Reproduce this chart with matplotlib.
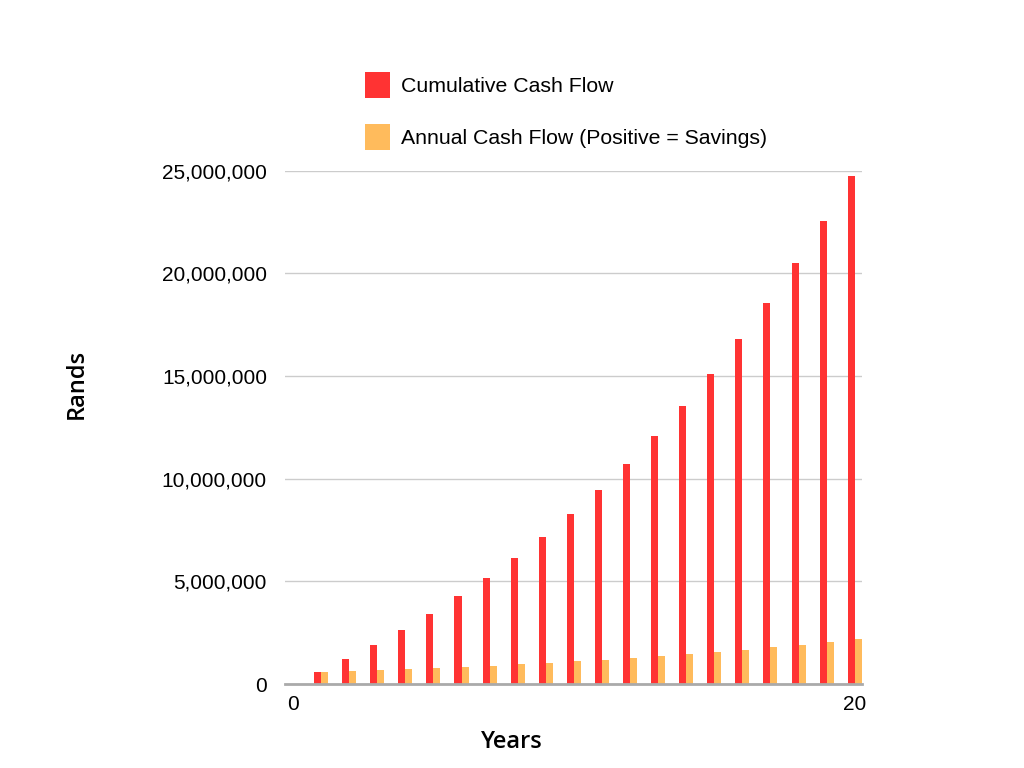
import matplotlib
matplotlib.use("Agg")
import matplotlib.pyplot as plt
from matplotlib.ticker import FuncFormatter
from matplotlib.patches import Patch
import numpy as np

years = list(range(1, 21))
cumulative = [0.60, 1.22, 1.90, 2.63, 3.43, 4.27, 5.16, 6.14, 7.16, 8.26,
              9.45, 10.73, 12.08, 13.54, 15.10, 16.79, 18.57, 20.49, 22.55, 24.76]
annual = [0.60, 0.63, 0.68, 0.73, 0.78, 0.83, 0.89, 0.96, 1.02, 1.10,
          1.17, 1.27, 1.36, 1.46, 1.56, 1.66, 1.79, 1.92, 2.05, 2.19]
cumulative = [v * 1e6 for v in cumulative]
annual = [v * 1e6 for v in annual]
series_labels = ["Cumulative Cash Flow", "Annual Cash Flow (Positive = Savings)"]
x_label = "Years"
y_label = "Rands"

red = "#ff3333"
orange = "#ffbb5c"

plt.rcParams['font.family'] = ['Liberation Sans', 'DejaVu Sans']

fig = plt.figure(figsize=(10.24, 7.68), dpi=100)
ax = fig.add_axes([285/1024, 1 - 684/768, (862-285)/1024, (684-170.7)/768])

x = np.array(years, dtype=float)
w = 0.25
ax.bar(x - w/2, cumulative, width=w, color=red, zorder=3)
ax.bar(x + w/2, annual, width=w, color=orange, zorder=3)

ax.set_xlim(-0.285, 20.26)
ax.set_ylim(0, 25e6)
ax.set_yticks(np.arange(0, 25e6 + 1, 5e6))
ax.set_xticks([0, 20])
ax.yaxis.set_major_formatter(FuncFormatter(lambda v, p: f"{int(v):,}"))
ax.grid(axis='y', color='#cccccc', linewidth=1, zorder=0)
ax.tick_params(axis='y', length=0, pad=13, labelsize=15, colors='black')
ax.tick_params(axis='x', length=0, pad=8, labelsize=15, colors='black')
for s in ['top', 'right', 'left']:
    ax.spines[s].set_visible(False)
ax.spines['bottom'].set_color('#aaaaaa')
ax.spines['bottom'].set_linewidth(2)
ax.spines['bottom'].set_zorder(4)

fig.text(512/1024, 1 - 742/768, x_label, ha='center', va='center',
         fontsize=17, fontweight='semibold', family=['Open Sans', 'DejaVu Sans'])
fig.text(77/1024, 1 - 384/768, y_label, ha='center', va='center', rotation=90,
         fontsize=17, fontweight='semibold', family=['Open Sans', 'DejaVu Sans'])

handles = [Patch(facecolor=red, edgecolor='none'), Patch(facecolor=orange, edgecolor='none')]
fig.legend(handles, series_labels, loc='upper left',
           bbox_to_anchor=(365/1024, 1 - 72/768), frameon=False, fontsize=15.3,
           handlelength=1.17, handleheight=1.47, handletextpad=0.52,
           labelspacing=1.25, borderpad=0, borderaxespad=0)

fig.savefig("out.png", dpi=100, facecolor='white')
